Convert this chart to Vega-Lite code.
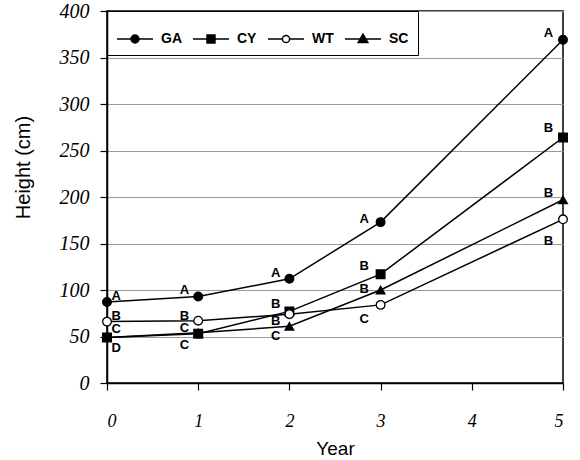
{
  "$schema": "https://vega.github.io/schema/vega-lite/v6.json",
  "width": 456,
  "height": 372,
  "padding": {"left": 13, "top": 1, "right": 5, "bottom": 0},
  "background": "white",
  "config": {
    "view": {"stroke": "black", "strokeWidth": 1.5},
    "axis": {"domainColor": "black", "tickColor": "black", "domainWidth": 1.5, "tickWidth": 1.2, "labelColor": "black", "titleColor": "black"},
    "axisX": {"labelFont": "Liberation Serif", "labelFontStyle": "italic", "labelFontSize": 18, "labelPadding": 22, "tickSize": 7,
      "titleFont": "Liberation Sans", "titleFontWeight": "normal", "titleFontSize": 19, "titlePadding": 9, "grid": false},
    "axisY": {"labelFont": "Liberation Serif", "labelFontStyle": "italic", "labelFontSize": 20, "labelPadding": 11, "tickSize": 7,
      "titleFont": "Liberation Sans", "titleFontWeight": "normal", "titleFontSize": 20, "titlePadding": 26,
      "grid": true, "gridColor": "#9a9a9a", "gridWidth": 1}
  },
  "datasets": {
    "heights": [
      {"series": "GA", "year": 0, "height": 87},
      {"series": "GA", "year": 1, "height": 93},
      {"series": "GA", "year": 2, "height": 112},
      {"series": "GA", "year": 3, "height": 173},
      {"series": "GA", "year": 5, "height": 369},
      {"series": "CY", "year": 0, "height": 49},
      {"series": "CY", "year": 1, "height": 53},
      {"series": "CY", "year": 2, "height": 77},
      {"series": "CY", "year": 3, "height": 117},
      {"series": "CY", "year": 5, "height": 264},
      {"series": "WT", "year": 0, "height": 66},
      {"series": "WT", "year": 1, "height": 67},
      {"series": "WT", "year": 2, "height": 74},
      {"series": "WT", "year": 3, "height": 84},
      {"series": "WT", "year": 5, "height": 176},
      {"series": "SC", "year": 0, "height": 49},
      {"series": "SC", "year": 1, "height": 54},
      {"series": "SC", "year": 2, "height": 61},
      {"series": "SC", "year": 3, "height": 100},
      {"series": "SC", "year": 5, "height": 197}
    ],
    "letters": [
      {"letter": "A", "lx": 0.1, "ly": 94},
      {"letter": "B", "lx": 0.1, "ly": 72},
      {"letter": "C", "lx": 0.1, "ly": 58},
      {"letter": "D", "lx": 0.1, "ly": 38},
      {"letter": "A", "lx": 0.85, "ly": 100},
      {"letter": "B", "lx": 0.85, "ly": 72},
      {"letter": "C", "lx": 0.85, "ly": 59},
      {"letter": "C", "lx": 0.85, "ly": 41},
      {"letter": "A", "lx": 1.85, "ly": 118},
      {"letter": "B", "lx": 1.85, "ly": 85},
      {"letter": "B", "lx": 1.85, "ly": 67},
      {"letter": "C", "lx": 1.85, "ly": 51},
      {"letter": "A", "lx": 2.82, "ly": 176},
      {"letter": "B", "lx": 2.82, "ly": 126},
      {"letter": "B", "lx": 2.82, "ly": 101},
      {"letter": "C", "lx": 2.82, "ly": 69},
      {"letter": "A", "lx": 4.84, "ly": 376},
      {"letter": "B", "lx": 4.84, "ly": 274},
      {"letter": "B", "lx": 4.84, "ly": 204},
      {"letter": "B", "lx": 4.84, "ly": 153}
    ]
  },
  "layer": [
    {
      "data": {"name": "heights"},
      "transform": [{"filter": "datum.year == 4"}],
      "mark": {"type": "point", "filled": true, "opacity": 1},
      "encoding": {
        "shape": {"field": "series", "type": "nominal",
          "scale": {"domain": ["GA", "CY", "WT", "SC"], "range": [
            "M-1,0H1M0.22,0A0.22,0.22,0,1,1,-0.22,0A0.22,0.22,0,1,1,0.22,0Z",
            "M-1,0H1M-0.22,-0.22H0.22V0.22H-0.22Z",
            "M-1,0H-0.2M0.2,0H1M0.2,0A0.2,0.2,0,1,1,-0.2,0A0.2,0.2,0,1,1,0.2,0Z",
            "M-1,0H1M0,-0.27L0.27,0.2H-0.27Z"]},
          "legend": {"title": null, "orient": "top-left", "direction": "horizontal", "offset": 0,
            "strokeColor": "black", "padding": 9, "columnPadding": 8, "labelOffset": 7,
            "symbolSize": 1296, "symbolStrokeWidth": 1.5,
            "labelFont": "Liberation Sans", "labelFontSize": 14, "labelFontWeight": "bold", "labelColor": "black"}},
        "fill": {"field": "series", "type": "nominal",
          "scale": {"domain": ["GA", "CY", "WT", "SC"], "range": ["black", "black", "white", "black"]},
          "legend": {"title": null}},
        "stroke": {"field": "series", "type": "nominal",
          "scale": {"domain": ["GA", "CY", "WT", "SC"], "range": ["black", "black", "black", "black"]},
          "legend": {"title": null}}
      }
    },
    {
      "data": {"name": "heights"},
      "mark": {"type": "line", "color": "black", "strokeWidth": 1.5},
      "encoding": {
        "x": {"field": "year", "type": "quantitative", "scale": {"domain": [0, 5], "nice": false},
          "axis": {"values": [0, 1, 2, 3, 4, 5], "format": "d", "title": "Year"}},
        "y": {"field": "height", "type": "quantitative", "scale": {"domain": [0, 400], "nice": false},
          "axis": {"values": [0, 50, 100, 150, 200, 250, 300, 350, 400], "format": "d", "title": "Height (cm)", "titleY": 156}},
        "detail": {"field": "series"}
      }
    },
    {
      "data": {"name": "heights"},
      "mark": {"type": "point", "strokeWidth": 1.3, "opacity": 1, "size": 75, "filled": true},
      "encoding": {
        "x": {"field": "year", "type": "quantitative"},
        "y": {"field": "height", "type": "quantitative"},
        "shape": {"field": "series", "type": "nominal",
          "scale": {"domain": ["GA", "CY", "WT", "SC"], "range": ["circle", "square", "circle", "triangle-up"]},
          "legend": null},
        "fill": {"field": "series", "type": "nominal",
          "scale": {"domain": ["GA", "CY", "WT", "SC"], "range": ["black", "black", "white", "black"]},
          "legend": null},
        "stroke": {"field": "series", "type": "nominal",
          "scale": {"domain": ["GA", "CY", "WT", "SC"], "range": ["black", "black", "black", "black"]},
          "legend": null}
      }
    },
    {
      "data": {"name": "letters"},
      "mark": {"type": "text", "font": "Liberation Sans", "fontSize": 13, "fontWeight": "bold", "color": "black"},
      "encoding": {
        "x": {"field": "lx", "type": "quantitative"},
        "y": {"field": "ly", "type": "quantitative"},
        "text": {"field": "letter"}
      }
    }
  ],
  "resolve": {"scale": {"shape": "independent", "fill": "independent", "stroke": "independent"}}
}
